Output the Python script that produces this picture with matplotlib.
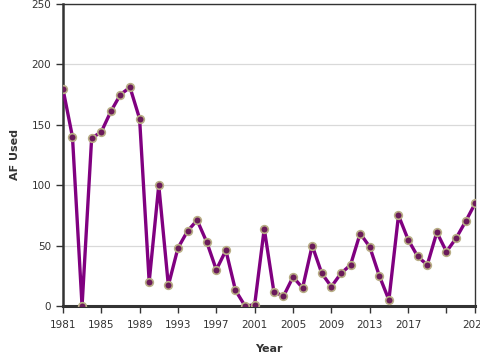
import matplotlib
matplotlib.use("Agg")
from matplotlib import pyplot as plt

years = list(range(1981, 2025))
af_used = [180, 140, 0, 139, 144, 161, 175, 181, 155, 20,
           100, 17, 48, 62, 71, 53, 30, 46, 13, 0,
           1, 64, 12, 8, 24, 15, 50, 27, 16, 27,
           34, 60, 49, 25, 5, 75, 55, 41, 34, 61,
           45, 56, 70, 85]

tick_years = [1981, 1985, 1989, 1993, 1997, 2001, 2005, 2009, 2013, 2017, 2021, 2024]
tick_labels = ['1981', '1985', '1989', '1993', '1997', '2001', '2005', '2009',
               '2013', '2017', '', '2024']

fig = plt.figure(figsize=(4.8, 3.6), dpi=100)
ax = fig.add_axes([0.131, 0.15, 0.859, 0.839])

ax.plot(years, af_used, color='#800080', linewidth=2.4, zorder=3)
ax.plot(years, af_used, linestyle='none', marker='o', markersize=5.5,
        markerfacecolor='#6a1a5a', markeredgecolor='#b8ad85',
        markeredgewidth=1.2, zorder=4)

ax.set_xlim(1981, 2024)
ax.set_ylim(0, 250)
ax.set_yticks([0, 50, 100, 150, 200, 250])
ax.set_xticks(tick_years)
ax.set_xticklabels(tick_labels)

ax.grid(axis='y', color='#d9d9d9', linewidth=0.9)
ax.set_axisbelow(True)

for side in ['top', 'right']:
    ax.spines[side].set_color('#333333')
    ax.spines[side].set_linewidth(1.0)
ax.spines['left'].set_color('#333333')
ax.spines['left'].set_linewidth(1.8)
ax.spines['bottom'].set_color('#333333')
ax.spines['bottom'].set_linewidth(2.2)

ax.tick_params(axis='both', labelsize=7.5, colors='#333333', length=5,
               width=1.0, direction='out')
ax.tick_params(axis='x', pad=5)

ax.set_xlabel('Year', fontsize=8, fontweight='bold', color='#333333', labelpad=10)
ax.set_ylabel('AF Used', fontsize=8, fontweight='bold', color='#333333', labelpad=8)

fig.savefig('out.png', dpi=100)
